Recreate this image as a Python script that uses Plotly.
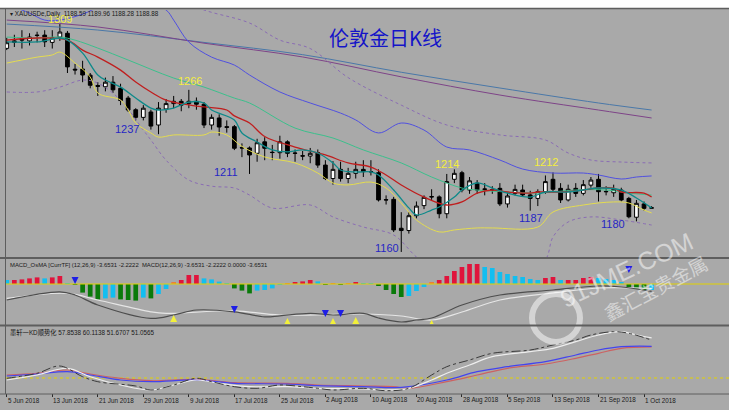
import plotly.graph_objects as go

W, H = 729, 410

# ---- daily bars, index 0 = 5 Jun 2018 ... 85 = 2 Oct 2018 ----
opens = [1293.1, 1297, 1299.5, 1298, 1301.5, 1301.8, 1297, 1300.5, 1303, 1279.5,
         1279.6, 1275.6, 1268.8, 1268, 1271, 1267, 1260.6, 1253, 1248, 1251.5,
         1243, 1253.5, 1257, 1258.5, 1257, 1258.5, 1256.6, 1243, 1247.6, 1241.9,
         1241.9, 1228.2, 1228, 1224.5, 1232, 1225.2, 1224.9, 1232, 1224.7, 1222.9,
         1222.7, 1225, 1216.8, 1208, 1214, 1208, 1211.4, 1214, 1212.6, 1211.8,
         1194.2, 1194.4, 1175.5, 1174, 1183.7, 1190.3, 1196.2, 1196, 1185, 1207.5,
         1211.8, 1200.5, 1205, 1201.2, 1200.7, 1201.6, 1191.4, 1198.3, 1200.5, 1197.3,
         1195, 1199.4, 1207.5, 1201.6, 1194, 1201.6, 1198.3, 1203.7, 1207.5, 1199.6,
         1198.7, 1200.5, 1195, 1182.7, 1191.4, 1188.59]
highs = [1300, 1302, 1305, 1303, 1304, 1305, 1305, 1309, 1304.5, 1283,
         1285, 1277, 1271, 1274, 1275, 1270, 1262, 1254, 1256, 1253,
         1258, 1260, 1262, 1260, 1266, 1261, 1258, 1250, 1250, 1246,
         1243, 1231, 1229, 1234, 1235, 1230, 1236, 1233, 1227, 1226,
         1228, 1227, 1220, 1219.4, 1219, 1215, 1219, 1220, 1220, 1214,
         1197, 1196, 1186, 1186, 1193, 1197, 1201, 1197, 1211, 1214,
         1213, 1209, 1207, 1205, 1203, 1205, 1199, 1204, 1204, 1200,
         1201, 1210, 1212, 1205, 1204, 1205, 1207, 1209, 1211, 1203,
         1204, 1202, 1196, 1194, 1193, 1189.96]
lows = [1292, 1294, 1293, 1295, 1297, 1294, 1293, 1298, 1277, 1276,
        1271, 1267, 1262, 1265, 1264, 1256, 1251.5, 1246, 1246, 1240,
        1237, 1251, 1254, 1252, 1254, 1253, 1241, 1240, 1236, 1238,
        1226.6, 1222, 1211, 1219, 1220, 1220, 1221, 1222, 1219, 1220,
        1218, 1215, 1207, 1204, 1206, 1205, 1208, 1209, 1210, 1193,
        1191, 1173, 1160, 1172, 1182, 1188, 1194, 1182, 1182, 1205,
        1199, 1198, 1198, 1197, 1198, 1190, 1189, 1197, 1196, 1187,
        1190, 1198, 1199, 1192, 1193, 1196, 1197, 1202, 1193, 1197,
        1196, 1193, 1182, 1180, 1187, 1188.28]
closes = [1296.8, 1298, 1298.5, 1300.5, 1301.7, 1297.4, 1300, 1303.8, 1281, 1279,
          1275.7, 1269, 1268.3, 1271, 1266, 1259, 1252.8, 1248, 1254, 1242.3,
          1254, 1257, 1258.5, 1256, 1258.5, 1256.6, 1243, 1248, 1241.7, 1241.5,
          1227.8, 1228, 1223.4, 1231.4, 1227.8, 1225, 1232, 1224.5, 1224.5, 1222.7,
          1224.5, 1216.8, 1208, 1214, 1208, 1211.4, 1214, 1212.5, 1212.4, 1194,
          1194, 1174.4, 1174, 1183.7, 1190, 1195.7, 1196, 1185, 1206, 1211.4,
          1200.5, 1206.5, 1200.5, 1201, 1200.5, 1191.4, 1196.6, 1200.9, 1197.3, 1195,
          1199.4, 1206, 1201, 1194, 1201, 1198.3, 1204, 1207, 1199.4, 1199.4,
          1201, 1194, 1183, 1191.8, 1188.5, 1188.88]

tick_idx = [0, 6, 12, 18, 24, 30, 36, 42, 48, 54, 60, 66, 72, 78, 84]
tick_text = ["5 Jun 2018", "13 Jun 2018", "21 Jun 2018", "29 Jun 2018", "9 Jul 2018",
             "17 Jul 2018", "25 Jul 2018", "2 Aug 2018", "10 Aug 2018", "20 Aug 2018",
             "28 Aug 2018", "5 Sep 2018", "13 Sep 2018", "21 Sep 2018", "1 Oct 2018"]

# ---- price-panel indicator lines (read at sample bars) ----
teal_x = [0, 4, 7, 8, 10, 12, 13, 15, 17, 19, 20, 22, 24, 26, 27, 30, 31, 33, 35, 37, 39, 41, 43,
          44, 46, 48, 49, 51, 53, 54, 56, 57, 59, 60, 62, 64, 66, 69, 71, 74, 76, 78, 81, 83, 85]
teal_y = [1297.3, 1297.3, 1299.9, 1298.5, 1290.0, 1275.7, 1272.4, 1267.8, 1260.6, 1254.1, 1252.8,
          1254.1, 1258.0, 1257.4, 1252.8, 1246.3, 1237.8, 1231.9, 1226.7, 1225.4, 1226.7, 1224.7,
          1218.2, 1213.6, 1212.3, 1212.3, 1210.3, 1200.5, 1188.8, 1184.2, 1187.4, 1189.4, 1195.9,
          1200.5, 1205.1, 1201.8, 1198.5, 1195.9, 1199.2, 1199.2, 1200.5, 1201.8, 1200.5, 1195.3,
          1188.8]
red_x = [0, 4, 8, 10, 12, 15, 17, 19, 21, 24, 26, 29, 30, 32, 34, 38, 42, 45, 48, 50, 52, 55,
         58, 60, 62, 64, 66, 69, 70, 73, 76, 78, 80, 81, 84, 85]
red_y = [1298.5, 1299.9, 1298.5, 1292.0, 1287.4, 1278.9, 1271.1, 1264.6, 1259.3, 1256.1, 1254.8,
         1252.8, 1249.0, 1244.3, 1235.5, 1228.6, 1223.4, 1218.2, 1215.5, 1210.3, 1203.8, 1195.9,
         1190.7, 1192.7, 1198.5, 1200.5, 1199.2, 1198.5, 1199.2, 1199.2, 1200.5, 1201.8, 1201.8,
         1199.2, 1198.5, 1195.9]
green_x = [0, 4, 7, 9, 12, 16, 22, 26, 30, 32, 38, 43, 47, 52, 56, 60, 62, 66, 70, 75, 79, 82, 85]
green_y = [1300.5, 1299.9, 1300.5, 1298.5, 1293.3, 1285.5, 1273.7, 1267.8, 1260.6, 1257.4, 1241.0,
           1234.5, 1226.7, 1218.2, 1209.0, 1201.8, 1200.5, 1199.2, 1198.5, 1200.5, 1200.5, 1198.5,
           1197.2]
yellow_x = [0, 2, 4, 6, 7, 9, 11, 12, 15, 16, 17, 19, 20, 22, 26, 27, 29, 31, 34, 38, 41, 43, 45,
            48, 50, 52, 54, 57, 59, 62, 64, 70, 72, 76, 80, 82, 84, 85]
yellow_y = [1283.5, 1285.5, 1287.4, 1288.8, 1290.7, 1283.5, 1274.4, 1263.9, 1259.3, 1252.8, 1244.3,
            1237.8, 1235.1, 1236.5, 1236.5, 1238.4, 1236.5, 1229.0, 1222.1, 1218.2, 1211.6, 1205.1,
            1203.8, 1205.7, 1201.8, 1192.0, 1180.9, 1173.1, 1174.4, 1175.7, 1175.7, 1176.3, 1186.1,
            1190.7, 1192.7, 1192.0, 1187.4, 1185.5]
blue_x = [0, 3, 5, 7, 10, 13, 17, 21, 22, 24, 27, 30, 32, 36, 40, 44, 46, 49, 52, 55, 58, 61, 65,
          68, 72, 76, 78, 81, 83, 85]
blue_y = [1322.0, 1316.2, 1311.6, 1311.6, 1315.5, 1322.0, 1326.0, 1318.2, 1311.6, 1297.2, 1287.4,
          1282.2, 1275.7, 1264.6, 1257.4, 1250.8, 1246.3, 1237.8, 1244.3, 1239.7, 1228.6, 1226.7,
          1220.1, 1214.2, 1211.6, 1211.6, 1210.3, 1207.7, 1209.0, 1209.7]
dotup_x = [20, 26, 32, 36, 40, 45, 52, 58, 65, 71, 74, 77, 81, 85]
dotup_y = [1330.0, 1318.2, 1309.7, 1298.5, 1293.0, 1274.0, 1256.0, 1243.0, 1236.5, 1233.2, 1224.7,
           1220.1, 1218.8, 1218.2]
dotlo_x = [0, 4, 7, 10, 12, 15, 18, 19, 21, 24, 27, 30, 32, 35, 40, 43, 47, 51, 54, 58, 65, 71,
           72, 74, 77, 81, 85]
dotlo_y = [1264.6, 1264.6, 1267.8, 1272.4, 1270.4, 1259.3, 1239.7, 1233.2, 1220.0, 1207.0, 1203.0,
           1201.8, 1197.2, 1188.7, 1190.7, 1182.9, 1176.3, 1171.1, 1156.7, 1141.7, 1128.6, 1154.8,
           1169.8, 1179.6, 1182.9, 1180.9, 1177.6]
long1_x = [0, 12, 26, 39, 52, 65, 78, 85]
long1_y = [1309.0, 1305.1, 1297.0, 1289.0, 1277.5, 1267.2, 1257.4, 1252.8]
long2_x = [0, 12, 26, 39, 52, 65, 78, 85]
long2_y = [1311.6, 1307.1, 1296.5, 1287.5, 1274.5, 1262.6, 1252.8, 1247.6]

label_bar = [7, 24, 59, 72, 20, 32, 52, 69, 83]
label_price = [1309, 1266, 1214, 1212, 1237, 1211, 1160, 1187, 1180]
label_high = [True, True, True, True, False, False, False, False, False]

# ---- MACD panel ----
osma = [2, 2, 2.3, 2.8, 3.3, 2.8, 3.3, 4, 0.3, -0.3,
        -4.3, -6.3, -7.7, -7.2, -6.8, -7.7, -8, -8.3, -6.8, -7.2,
        -5, -2.5, 0.7, 2, 4.5, 4.5, 2.8, 2.3, 1.2, 0.3,
        -2.2, -3.3, -4.7, -3.3, -3, -2.2, -0.5, 0.5, 1, 1.3,
        2, 1.3, -0.3, 0.5, -0.5, 0.3, 1, 0.5, 0.3, -1,
        -3, -5, -6.5, -6, -3.5, -1.5, 1, 2, 4, 6.5,
        8.5, 10, 10, 8.5, 8, 6, 5, 4, 3.5, 2.5,
        2, 3, 3.5, 2, 2, 2, 3, 3.5, 3, 2.5,
        2, 1, -1.5, -2.5, -3, -3]
macd_x = [0, 7, 9, 12, 19, 22, 25, 30, 34, 36, 40, 43, 47, 49, 52, 54, 56, 60, 65, 72, 78, 81, 85]
macd_y = [-8, -3.9, -5.5, -10.5, -17.2, -15.5, -13, -13.9, -16.4, -15.9, -14.7, -15.5, -14.7, -17,
          -19, -18, -17, -10.5, -5.5, -3, -1, -1.5, -3.65]
signal_x = [0, 8, 12, 19, 21, 30, 36, 47, 52, 56, 60, 65, 72, 78, 85]
signal_y = [-7.2, -4.7, -8, -13.9, -14.7, -13.4, -15.5, -15, -16, -18, -14, -8, -4.5, -2, -2.22]
sell_x = [9, 30, 42, 44, 82]
sell_y = [0, -14.5, -16.5, -16.5, 5.5]
buy_x = [22, 37, 43, 46, 56]
buy_y = [-15.5, -17, -17, -16.5, -18]

# ---- KD panel ----
kd_dark_x = [0, 4, 7, 10, 12, 17, 19, 22, 25, 27, 30, 33, 36, 39, 41, 43, 47, 50, 53, 56, 58, 61,
             64, 69, 72, 75, 77, 80, 82, 85]
kd_dark_y = [19.7, 24.7, 32, 21.3, 16.3, 12, 8, 13, 19.7, 16.3, 11.3, 9.7, 13, 11.3, 9.7, 8, 9.7,
             7.3, 9.7, 23, 31.3, 38, 44.7, 48, 53, 58, 63, 66.3, 64.7, 57.9]
kd_white_x = [0, 4, 8, 11, 15, 19, 22, 25, 28, 32, 37, 41, 47, 50, 53, 56, 58, 61, 64, 69, 72, 75,
              78, 81, 83, 85]
kd_white_y = [18, 23, 29.7, 21.3, 13, 8, 13, 18, 14.7, 11.3, 11.3, 9.7, 9, 8, 9.7, 18, 24.7, 33,
              41.3, 46.3, 49.7, 56.3, 63, 66.3, 63, 60.1]
kd_blue_x = [0, 4, 8, 11, 15, 19, 25, 30, 37, 41, 47, 51, 53, 58, 62, 66, 71, 75, 78, 81, 85]
kd_blue_y = [22, 24, 26.3, 23, 18, 16.3, 18, 14.7, 14, 12.3, 11.3, 10.3, 11.3, 18, 26.3, 31.3,
             36.3, 43, 48, 51.3, 51.7]
kd_red_x = [0, 4, 8, 11, 15, 19, 25, 30, 37, 41, 47, 51, 53, 58, 62, 66, 71, 75, 78, 81, 85]
kd_red_y = [23, 24.7, 28, 24, 19.7, 17.3, 18.7, 15.3, 14.7, 13, 12, 11.3, 9.7, 16.3, 23, 29.7, 34,
            39.7, 44.7, 49.7, 51.1]
kd_level = 20


def py(p):
    return 1 - p / H


def px(p):
    return p / W


BG = "#A9A9A9"
SMALL = dict(family="Liberation Sans", size=6.3, color="#1A1A1A")
WM = "rgba(255,255,255,0.5)"
x_range = [-0.1, 95.2]

fig = go.Figure()

# long-term averages
for xs, ys, c in [(long1_x, long1_y, "#4A78A8"), (long2_x, long2_y, "#7E4488")]:
    fig.add_trace(go.Scatter(x=xs, y=ys, mode="lines", line=dict(color=c, width=1, shape="spline"),
                             xaxis="x", yaxis="y"))
# bands
for xs, ys in [(dotup_x, dotup_y), (dotlo_x, dotlo_y)]:
    fig.add_trace(go.Scatter(x=xs, y=ys, mode="lines",
                             line=dict(color="#8A6CB4", width=1, dash="dot", shape="spline"),
                             xaxis="x", yaxis="y"))
fig.add_trace(go.Scatter(x=blue_x, y=blue_y, mode="lines",
                         line=dict(color="#5050E0", width=1, shape="spline"), xaxis="x", yaxis="y"))
fig.add_trace(go.Scatter(x=yellow_x, y=yellow_y, mode="lines",
                         line=dict(color="#E4DC50", width=1, shape="spline"), xaxis="x", yaxis="y"))
fig.add_trace(go.Scatter(x=green_x, y=green_y, mode="lines",
                         line=dict(color="#3CC08C", width=1, shape="spline"), xaxis="x", yaxis="y"))
fig.add_trace(go.Scatter(x=red_x, y=red_y, mode="lines",
                         line=dict(color="#C01E1E", width=1.3, shape="spline"), xaxis="x", yaxis="y"))
fig.add_trace(go.Scatter(x=teal_x, y=teal_y, mode="lines",
                         line=dict(color="#0E8A8A", width=1.3, shape="spline"), xaxis="x", yaxis="y"))

fig.add_trace(go.Candlestick(
    x=list(range(len(opens))), open=opens, high=highs, low=lows, close=closes,
    increasing=dict(line=dict(color="black", width=1), fillcolor="white"),
    decreasing=dict(line=dict(color="black", width=1), fillcolor="black"),
    whiskerwidth=0, xaxis="x", yaxis="y"))

# MACD histogram colours follow the bar-to-bar change
bar_colors = []
for i, v in enumerate(osma):
    prev = osma[i - 1] if i else v
    if v >= 0:
        if i and prev < 0:
            bar_colors.append("#E8803C")
        elif v >= prev and i:
            bar_colors.append("#E0143C")
        else:
            bar_colors.append("#12BEF0")
    else:
        bar_colors.append("#0A7A0A" if v < prev else "#12BEF0")
fig.add_trace(go.Bar(x=list(range(len(osma))), y=osma, marker=dict(color=bar_colors, line_width=0),
                     width=0.62, xaxis="x2", yaxis="y2"))
fig.add_trace(go.Scatter(x=[x_range[0], x_range[1]], y=[0, 0], mode="lines",
                         line=dict(color="#E2D200", width=1), xaxis="x2", yaxis="y2"))
fig.add_trace(go.Scatter(x=signal_x, y=signal_y, mode="lines",
                         line=dict(color="#E6E6E6", width=1.2, shape="spline"), xaxis="x2", yaxis="y2"))
fig.add_trace(go.Scatter(x=macd_x, y=macd_y, mode="lines",
                         line=dict(color="#4E4E4E", width=1.2, shape="spline"), xaxis="x2", yaxis="y2"))
fig.add_trace(go.Scatter(x=sell_x, y=sell_y, mode="markers",
                         marker=dict(symbol="arrow-down", size=7, color="#1E1EE6", line_width=0),
                         xaxis="x2", yaxis="y2"))
fig.add_trace(go.Scatter(x=buy_x, y=buy_y, mode="markers",
                         marker=dict(symbol="arrow-up", size=7, color="#F2F03A", line_width=0),
                         xaxis="x2", yaxis="y2"))

# KD panel
fig.add_trace(go.Scatter(x=[x_range[0], x_range[1]], y=[kd_level, kd_level], mode="lines",
                         line=dict(color="#E2D200", width=1, dash="dot"), xaxis="x3", yaxis="y3"))
fig.add_trace(go.Scatter(x=kd_red_x, y=kd_red_y, mode="lines",
                         line=dict(color="#CC6262", width=1.2, shape="spline"), xaxis="x3", yaxis="y3"))
fig.add_trace(go.Scatter(x=kd_blue_x, y=kd_blue_y, mode="lines",
                         line=dict(color="#4444EE", width=1.2, shape="spline"), xaxis="x3", yaxis="y3"))
fig.add_trace(go.Scatter(x=kd_white_x, y=kd_white_y, mode="lines",
                         line=dict(color="#EEEEEE", width=1.2, shape="spline"), xaxis="x3", yaxis="y3"))
fig.add_trace(go.Scatter(x=kd_dark_x, y=kd_dark_y, mode="lines",
                         line=dict(color="#3A3A3A", width=1, dash="dashdot", shape="spline"),
                         xaxis="x3", yaxis="y3"))

ann = []
# extreme price labels
label_shift = [(0, 5), (1, 9), (-7, 5), (-7, 10), (-31, 5), (-24, 2), (-14, 4), (1, -7), (-23, -3)]
for b, p, hi, (dx, dy) in zip(label_bar, label_price, label_high, label_shift):
    ann.append(dict(x=b, y=p, xref="x", yref="y", text=str(p), showarrow=False,
                    xanchor="center", yanchor="middle", xshift=dx, yshift=dy,
                    font=dict(family="Liberation Sans", size=11,
                              color="#F4EE3C" if hi else "#2626C4")))
for t, lab in zip(tick_idx, tick_text):
    ann.append(dict(x=t, y=py(400), xref="x3", yref="paper", text=lab, showarrow=False,
                    xanchor="left", yanchor="middle", xshift=-1, font=SMALL))


def text_at(x, y, s, font, xa="left", angle=0):
    ann.append(dict(x=px(x), y=py(y), xref="paper", yref="paper", xanchor=xa, yanchor="middle",
                    showarrow=False, text=s, font=font, textangle=angle))


text_at(8, 14, "▾ XAUUSDe,Daily  1188.59 1189.96 1188.28 1188.88", SMALL)
text_at(8, 265, "MACD_OsMA [CurrTF] (12,26,9) -3.6531 -2.2222  MACD(12,26,9) -3.6531 -2.2222 0.0000 -3.6531",
        dict(SMALL, size=5.9))
text_at(8, 332, "墨轩一KD顺势化 57.8538 60.1138 51.6707 51.0565",
        dict(SMALL, family="Liberation Sans, Noto Sans CJK SC"))
text_at(385, 38, "伦敦金日K线", dict(family="Noto Sans CJK SC", size=20, color="#1414C8"), "center")
# watermark
text_at(626, 270, "91JME.COM", dict(family="Liberation Sans", size=25, color=WM), "center", -25)
text_at(655, 287, "鑫汇宝贵金属", dict(family="Noto Sans CJK SC", size=19, color=WM), "center", -28)

shapes = [
    dict(type="rect", xref="paper", yref="paper", x0=0, x1=1, y0=py(8), y1=1,
         fillcolor="white", line_width=0, layer="below"),
    dict(type="circle", xref="paper", yref="paper", x0=px(532), x1=px(580), y0=py(342), y1=py(294),
         line=dict(color=WM, width=6)),
]
for yy, wdt in [(8.5, 1.5), (258, 2), (325.5, 2), (394, 1)]:
    shapes.append(dict(type="line", xref="paper", yref="paper", x0=0, x1=1, y0=py(yy), y1=py(yy),
                       line=dict(color="#5E5E5E", width=wdt)))
shapes.append(dict(type="line", xref="paper", yref="paper", x0=px(5.5), x1=px(5.5),
                   y0=py(394), y1=py(8.5), line=dict(color="#5E5E5E", width=1)))

ax = dict(range=x_range, showgrid=False, zeroline=False, showticklabels=False, fixedrange=True)
fig.update_layout(
    width=W, height=H, margin=dict(l=0, r=0, t=0, b=0),
    paper_bgcolor=BG, plot_bgcolor=BG, showlegend=False, hovermode=False, boxgap=0.3,
    xaxis=dict(ax, domain=[px(6), 1], anchor="y", rangeslider=dict(visible=False)),
    xaxis2=dict(ax, domain=[px(6), 1], anchor="y2"),
    xaxis3=dict(ax, domain=[px(6), 1], anchor="y3", ticks="outside", ticklen=3,
                tickcolor="#2A2A2A", tickvals=tick_idx),
    yaxis=dict(domain=[py(257), py(10)], range=[1156.7, 1318.2], visible=False),
    yaxis2=dict(domain=[py(324), py(260)], range=[-20, 12], visible=False),
    yaxis3=dict(domain=[py(393), py(327)], range=[5, 71], visible=False),
    annotations=ann, shapes=shapes,
)

# the page itself should add no margin round the 729x410 figure
fig.write_html("out.html", config={"displayModeBar": False},
               post_script="document.body.style.margin='0px';")
